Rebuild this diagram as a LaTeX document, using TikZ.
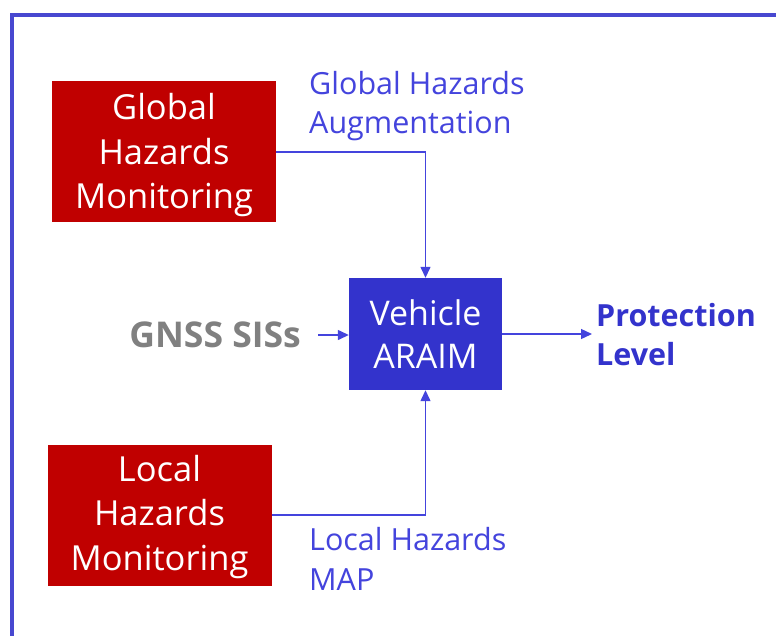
\documentclass[tikz,border=0pt]{standalone}
\usepackage{fontspec}
\setmainfont{Open Sans}
\usetikzlibrary{arrows.meta}
\definecolor{hzred}{HTML}{C00000}
\definecolor{vblue}{HTML}{3333CC}
\definecolor{lblue}{HTML}{4444DD}
\definecolor{frameblue}{HTML}{4848D0}
\definecolor{gnssgray}{HTML}{808080}
\tikzset{
  redbox/.style={fill=hzred, minimum width=224pt, minimum height=141pt, inner sep=0pt},
  redtext/.style={text=white, align=center, inner sep=0pt, font=\fontsize{34.5}{44.5}\selectfont},
  bluebox/.style={fill=vblue, text=white, align=center, minimum width=153pt, minimum height=112pt, inner sep=0pt, font=\fontsize{34}{43}\selectfont},
  lbl/.style={text=lblue, align=left, anchor=west, inner sep=0pt, font=\fontsize{30.5}{39.5}\selectfont},
  conn/.style={draw=lblue, line width=1.3pt, -{Triangle[length=11pt,width=10pt]}},
}
\begin{document}
\begin{tikzpicture}[x=1pt,y=-1pt]
\useasboundingbox (0,0) rectangle (776,635);
\fill[white] (0,0) rectangle (776,635);
\draw[frameblue, line width=4pt] (11.5,640) -- (11.5,15) -- (780,15);
\node[redbox] (ghm) at (164,151.5) {};
\node[redtext] (ghmt) at ([yshift=-4pt]ghm.center) {Global\\Hazards\\Monitoring};
\node[redbox] (lhm) at (159.5,515) {};
\node[redtext] (lhmt) at ([yshift=-2pt]lhm.center) {Local\\Hazards\\Monitoring};
\node[bluebox] (veh) at (425.5,334) {Vehicle\\ARAIM};
\node[lbl] (gha) at (309,106) {Global Hazards\\Augmentation};
\node[lbl] (lhmap) at (309,559) {Local Hazards\\MAP};
\node[anchor=east, inner sep=0pt, text=gnssgray, font=\fontsize{35.5}{40}\selectfont\bfseries] (gnss) at (301,335) {GNSS SISs};
\node[anchor=west, inner sep=0pt, text=vblue, align=left, font=\fontsize{30.5}{39}\selectfont\bfseries] (pl) at (596,335) {Protection\\Level};
\coordinate (gnssend) at (318,335);
\coordinate (plend) at (592,334);
\draw[conn] (ghm.east |- 0,152) -| (veh.north);
\draw[conn] (lhm.east |- 0,515) -| (veh.south);
\draw[conn] (gnssend) -- (veh.west |- gnssend);
\draw[conn] (veh.east |- plend) -- (plend);
\end{tikzpicture}
\end{document}
